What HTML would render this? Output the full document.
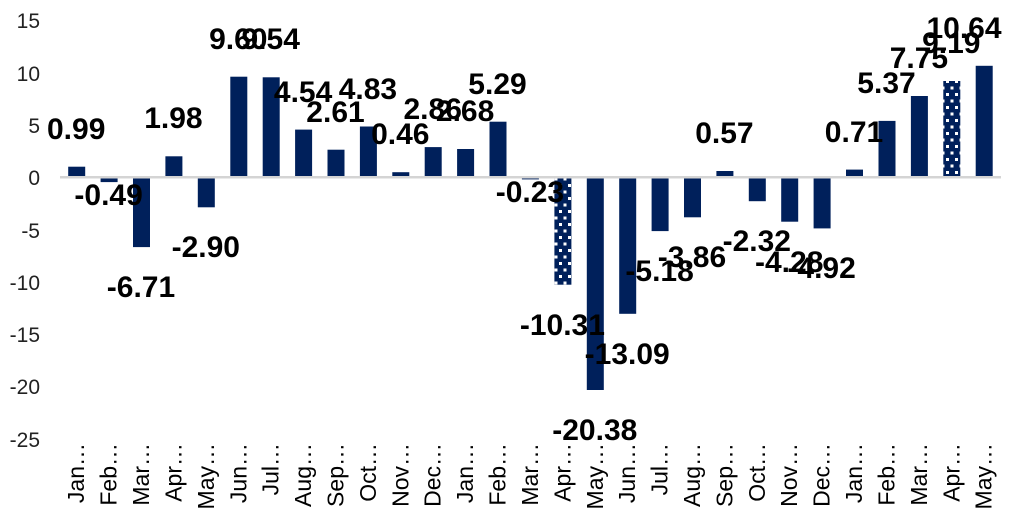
<!DOCTYPE html>
<html><head><meta charset="utf-8"><style>
html,body{margin:0;padding:0;background:#fff;}
svg{display:block;font-family:"Liberation Sans",Arial,sans-serif;}
.l{font-size:30px;font-weight:bold;fill:#000;text-anchor:middle;}
.y{font-size:21px;fill:#222;text-anchor:end;}
.x{font-size:23px;fill:#000;text-anchor:end;}
</style></head><body>
<svg width="1012" height="528" viewBox="0 0 1012 528">
<defs>
<pattern id="dots" x="0" y="0" width="9" height="13" patternUnits="userSpaceOnUse">
<rect width="9" height="13" fill="#00205b"/>
<rect x="1" y="2" width="3" height="3" fill="#fff"/>
<rect x="5.5" y="8.5" width="3" height="3" fill="#fff"/>
</pattern>
</defs>
<g class="y">
<text x="40" y="28">15</text><text x="40" y="81">10</text><text x="40" y="133">5</text>
<text x="40" y="185">0</text><text x="40" y="238">-5</text><text x="40" y="290">-10</text>
<text x="40" y="342">-15</text><text x="40" y="394">-20</text><text x="40" y="447">-25</text>
</g>
<g fill="#00205b">
<rect x="68.2" y="166.7" width="17" height="10.3"/>
<rect x="100.6" y="177" width="17" height="5.1"/>
<rect x="133" y="177" width="17" height="70.1"/>
<rect x="165.4" y="156.3" width="17" height="20.7"/>
<rect x="197.8" y="177" width="17" height="30.3"/>
<rect x="230.3" y="76.7" width="17" height="100.3"/>
<rect x="262.7" y="77.3" width="17" height="99.7"/>
<rect x="295.1" y="129.6" width="17" height="47.4"/>
<rect x="327.5" y="149.7" width="17" height="27.3"/>
<rect x="359.9" y="126.5" width="17" height="50.5"/>
<rect x="392.3" y="172.2" width="17" height="4.8"/>
<rect x="424.7" y="147.1" width="17" height="29.9"/>
<rect x="457.1" y="149" width="17" height="28"/>
<rect x="489.5" y="121.7" width="17" height="55.3"/>
<rect x="521.9" y="177" width="17" height="2.4"/>
<rect x="554.4" y="177" width="17" height="107.7" fill="url(#dots)"/>
<rect x="586.8" y="177" width="17" height="213"/>
<rect x="619.2" y="177" width="17" height="136.8"/>
<rect x="651.6" y="177" width="17" height="54.1"/>
<rect x="684" y="177" width="17" height="40.3"/>
<rect x="716.4" y="171" width="17" height="6"/>
<rect x="748.8" y="177" width="17" height="24.2"/>
<rect x="781.2" y="177" width="17" height="44.7"/>
<rect x="813.6" y="177" width="17" height="51.4"/>
<rect x="846" y="169.6" width="17" height="7.4"/>
<rect x="878.5" y="120.9" width="17" height="56.1"/>
<rect x="910.9" y="96" width="17" height="81"/>
<rect x="943.3" y="81" width="17" height="96" fill="url(#dots)"/>
<rect x="975.7" y="65.8" width="17" height="111.2"/>
</g>
<rect x="60" y="176" width="941" height="2.5" fill="#d4d4d4"/>
<g class="l">
<text x="76.2" y="139">0.99</text>
<text x="108.6" y="205">-0.49</text>
<text x="141" y="297">-6.71</text>
<text x="173.4" y="128">1.98</text>
<text x="205.8" y="257">-2.90</text>
<text x="238.3" y="49">9.60</text>
<text x="270.7" y="49">9.54</text>
<text x="303.1" y="102">4.54</text>
<text x="335.5" y="122">2.61</text>
<text x="367.9" y="99">4.83</text>
<text x="400.3" y="144">0.46</text>
<text x="432.7" y="119">2.86</text>
<text x="465.1" y="121">2.68</text>
<text x="497.5" y="94">5.29</text>
<text x="529.9" y="202">-0.23</text>
<text x="562.4" y="335">-10.31</text>
<text x="594.8" y="440">-20.38</text>
<text x="627.2" y="364">-13.09</text>
<text x="659.6" y="281">-5.18</text>
<text x="692" y="267">-3.86</text>
<text x="724.4" y="143">0.57</text>
<text x="756.8" y="251">-2.32</text>
<text x="789.2" y="272">-4.28</text>
<text x="821.6" y="278">-4.92</text>
<text x="854" y="142">0.71</text>
<text x="886.5" y="93">5.37</text>
<text x="918.9" y="68">7.75</text>
<text x="951.3" y="53">9.19</text>
<text x="964" y="38">10.64</text>
</g>
<g class="x">
<text transform="translate(84.2,443) rotate(-90)">Jan…</text>
<text transform="translate(116.6,443) rotate(-90)">Feb…</text>
<text transform="translate(149,443) rotate(-90)">Mar…</text>
<text transform="translate(181.4,443) rotate(-90)">Apr…</text>
<text transform="translate(213.8,443) rotate(-90)">May…</text>
<text transform="translate(246.3,443) rotate(-90)">Jun…</text>
<text transform="translate(278.7,443) rotate(-90)">Jul…</text>
<text transform="translate(311.1,443) rotate(-90)">Aug…</text>
<text transform="translate(343.5,443) rotate(-90)">Sep…</text>
<text transform="translate(375.9,443) rotate(-90)">Oct…</text>
<text transform="translate(408.3,443) rotate(-90)">Nov…</text>
<text transform="translate(440.7,443) rotate(-90)">Dec…</text>
<text transform="translate(473.1,443) rotate(-90)">Jan…</text>
<text transform="translate(505.5,443) rotate(-90)">Feb…</text>
<text transform="translate(537.9,443) rotate(-90)">Mar…</text>
<text transform="translate(570.4,443) rotate(-90)">Apr…</text>
<text transform="translate(602.8,443) rotate(-90)">May…</text>
<text transform="translate(635.2,443) rotate(-90)">Jun…</text>
<text transform="translate(667.6,443) rotate(-90)">Jul…</text>
<text transform="translate(700,443) rotate(-90)">Aug…</text>
<text transform="translate(732.4,443) rotate(-90)">Sep…</text>
<text transform="translate(764.8,443) rotate(-90)">Oct…</text>
<text transform="translate(797.2,443) rotate(-90)">Nov…</text>
<text transform="translate(829.6,443) rotate(-90)">Dec…</text>
<text transform="translate(862,443) rotate(-90)">Jan…</text>
<text transform="translate(894.5,443) rotate(-90)">Feb…</text>
<text transform="translate(926.9,443) rotate(-90)">Mar…</text>
<text transform="translate(959.3,443) rotate(-90)">Apr…</text>
<text transform="translate(991.7,443) rotate(-90)">May…</text>
</g>
</svg>
</body></html>
